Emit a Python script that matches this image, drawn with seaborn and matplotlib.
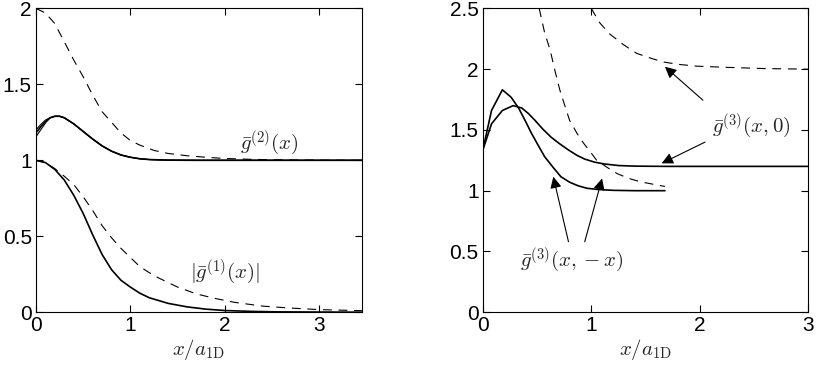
import numpy as np
import pandas as pd
import matplotlib
matplotlib.use('Agg')
import matplotlib.pyplot as plt
import matplotlib.ticker as mticker
import seaborn as sns

# left panel: g2 and g1 (solid = full result, dashed = approximation)
g2_dash_x = [0, 0.1, 0.2, 0.3, 0.4, 0.5, 0.6, 0.7, 0.8, 0.9, 1.0, 1.1, 1.25, 1.4, 1.6, 1.8, 2.0, 2.3, 2.6, 3.0, 3.45]
g2_dash_y = [2.0, 1.97, 1.90, 1.78, 1.66, 1.55, 1.43, 1.32, 1.25, 1.18, 1.13, 1.10, 1.065, 1.045, 1.03, 1.02, 1.012, 1.006, 1.003, 1.001, 1.0]

g2_solid_x = [0, 0.05, 0.1, 0.15, 0.2, 0.25, 0.3, 0.4, 0.5, 0.6, 0.7, 0.8, 0.9, 1.0, 1.1, 1.2, 1.4, 1.7, 2.0, 3.45]
g2_solid_y = [1.18, 1.22, 1.255, 1.28, 1.29, 1.29, 1.28, 1.24, 1.19, 1.14, 1.095, 1.06, 1.035, 1.02, 1.01, 1.005, 1.001, 1.0, 1.0, 1.0]
g2_solid_lo = [1.155, 1.20, 1.245] + g2_solid_y[3:]
g2_solid_hi = [1.20, 1.235, 1.265] + g2_solid_y[3:]

g1_solid_x = [0, 0.1, 0.2, 0.3, 0.4, 0.5, 0.6, 0.7, 0.8, 0.9, 1.0, 1.1, 1.2, 1.4, 1.6, 1.8, 2.0, 2.3, 2.6, 3.0, 3.45]
g1_solid_y = [1.0, 0.985, 0.94, 0.87, 0.77, 0.65, 0.51, 0.38, 0.28, 0.21, 0.165, 0.125, 0.095, 0.058, 0.035, 0.02, 0.011, 0.005, 0.002, 0.001, 0.0]

g1_dash_x = [0, 0.1, 0.2, 0.3, 0.4, 0.5, 0.6, 0.7, 0.8, 0.9, 1.0, 1.1, 1.2, 1.3, 1.5, 1.7, 1.9, 2.1, 2.4, 2.7, 3.0, 3.45]
g1_dash_y = [1.0, 0.985, 0.945, 0.895, 0.84, 0.76, 0.67, 0.57, 0.49, 0.42, 0.36, 0.30, 0.26, 0.225, 0.165, 0.12, 0.09, 0.065, 0.04, 0.027, 0.017, 0.01]

# right panel: g3(x,-x) and g3(x,0)
g3mx_solid_x = [0, 0.08, 0.18, 0.26, 0.33, 0.4, 0.45, 0.5, 0.57, 0.65, 0.72, 0.8, 0.88, 0.96, 1.06, 1.2, 1.4, 1.68]
g3mx_solid_y = [1.335, 1.66, 1.83, 1.77, 1.68, 1.56, 1.47, 1.39, 1.28, 1.19, 1.115, 1.07, 1.04, 1.02, 1.01, 1.003, 1.0, 1.0]

g30_solid_x = [0, 0.08, 0.18, 0.28, 0.36, 0.42, 0.48, 0.55, 0.63, 0.71, 0.79, 0.87, 0.94, 1.03, 1.12, 1.25, 1.4, 1.7, 3.0]
g30_solid_y = [1.335, 1.55, 1.66, 1.70, 1.68, 1.635, 1.58, 1.51, 1.44, 1.385, 1.335, 1.29, 1.26, 1.235, 1.22, 1.207, 1.202, 1.2, 1.2]

g3mx_dash_x = [0.52, 0.57, 0.62, 0.67, 0.71, 0.76, 0.80, 0.87, 0.93, 1.0, 1.05, 1.15, 1.24, 1.35, 1.45, 1.56, 1.68]
g3mx_dash_y = [2.5, 2.3, 2.16, 1.97, 1.83, 1.69, 1.58, 1.47, 1.39, 1.31, 1.25, 1.19, 1.14, 1.10, 1.074, 1.055, 1.035]

g30_dash_x = [1.0, 1.08, 1.17, 1.3, 1.42, 1.55, 1.66, 1.8, 1.97, 2.25, 2.6, 3.0]
g30_dash_y = [2.5, 2.38, 2.29, 2.2, 2.13, 2.09, 2.06, 2.04, 2.025, 2.015, 2.005, 2.0]

left_yticks = [0, 0.5, 1, 1.5, 2]
right_yticks = [0, 0.5, 1, 1.5, 2, 2.5]
xticks = [0, 1, 2, 3]

sns.set_style('ticks')
plt.rcParams['font.family'] = ['Liberation Sans', 'DejaVu Sans']
plt.rcParams['mathtext.fontset'] = 'cm'

fig = plt.figure(figsize=(8.17, 3.66), dpi=100)
ax1 = fig.add_axes([0.044, 0.147, 0.399, 0.830])
ax2 = fig.add_axes([0.591, 0.147, 0.398, 0.830])

solid_kw = dict(color='black', linewidth=1.2, estimator=None, sort=False)
dash_kw = dict(color='black', linewidth=0.8, estimator=None, sort=False, linestyle=(0, (8, 6)))

def draw(ax, x, y, kw):
    sns.lineplot(x=x, y=y, ax=ax, **kw)

# left panel
draw(ax1, g2_dash_x, g2_dash_y, dash_kw)
draw(ax1, g1_dash_x, g1_dash_y, dash_kw)
draw(ax1, g2_solid_x, g2_solid_lo, dict(solid_kw, linewidth=0.8))
draw(ax1, g2_solid_x, g2_solid_hi, dict(solid_kw, linewidth=0.8))
draw(ax1, g2_solid_x, g2_solid_y, solid_kw)
draw(ax1, g1_solid_x, g1_solid_y, solid_kw)

ax1.text(2.47, 1.115, r'$\bar{g}^{(2)}(x)$', fontsize=15, ha='center', va='center')
ax1.text(2.0, 0.265, r'$|\bar{g}^{(1)}(x)|$', fontsize=15, ha='center', va='center')

# right panel
draw(ax2, g3mx_dash_x, g3mx_dash_y, dash_kw)
draw(ax2, g30_dash_x, g30_dash_y, dash_kw)
draw(ax2, g3mx_solid_x, g3mx_solid_y, solid_kw)
draw(ax2, g30_solid_x, g30_solid_y, solid_kw)

arrow = dict(arrowstyle='-|>', color='black', lw=0.8, mutation_scale=17, shrinkA=0, shrinkB=0)
ax2.text(2.48, 1.54, r'$\bar{g}^{(3)}(x,0)$', fontsize=15, ha='center', va='center')
ax2.annotate('', xy=(1.68, 2.02), xytext=(2.03, 1.745), arrowprops=arrow)
ax2.annotate('', xy=(1.65, 1.225), xytext=(2.05, 1.40), arrowprops=arrow)
ax2.text(0.82, 0.43, r'$\bar{g}^{(3)}(x,-x)$', fontsize=15, ha='center', va='center')
ax2.annotate('', xy=(0.65, 1.115), xytext=(0.79, 0.58), arrowprops=arrow)
ax2.annotate('', xy=(1.10, 1.10), xytext=(0.94, 0.58), arrowprops=arrow)

for ax, xmax, ymax, yt in [(ax1, 3.45, 2.0, left_yticks), (ax2, 3.0, 2.5, right_yticks)]:
    ax.set_xlim(0, xmax)
    ax.set_ylim(0, ymax)
    ax.set_xticks(xticks)
    ax.set_yticks(yt)
    ax.xaxis.set_major_formatter(mticker.FormatStrFormatter('%g'))
    ax.yaxis.set_major_formatter(mticker.FormatStrFormatter('%g'))
    ax.tick_params(direction='in', length=5, width=0.8, top=True, right=True,
                   labelsize=15, pad=3, colors='black')
    for s in ax.spines.values():
        s.set_visible(True)
        s.set_linewidth(0.8)
        s.set_color('black')
    ax.set_xlabel(r'$x/a_{\rm 1D}$', fontsize=15, labelpad=1)
    ax.set_ylabel('')

fig.savefig('out.png', dpi=100)
